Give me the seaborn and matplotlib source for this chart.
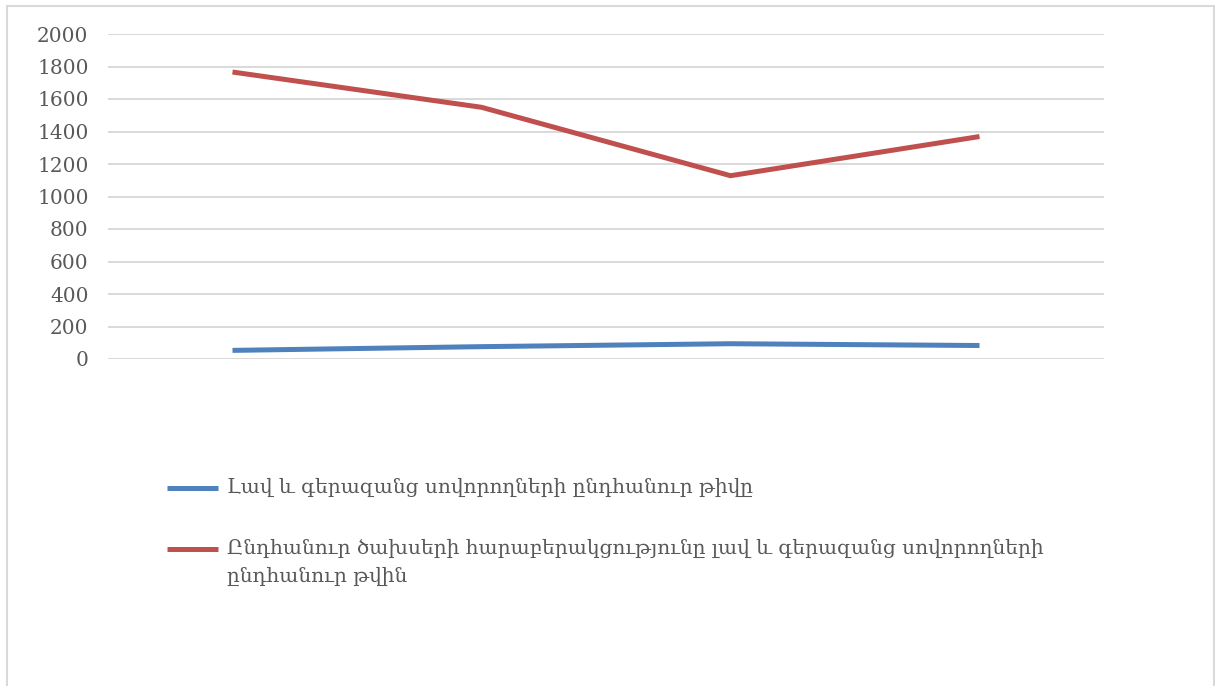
import matplotlib
matplotlib.use("Agg")
import matplotlib.pyplot as plt
import matplotlib.patches as mpatches
from matplotlib.lines import Line2D
import pandas as pd
import seaborn as sns

# -- Data ----------------------------------------------------------------------
periods = ["1", "2", "3", "4"]
good_students = [53, 76, 94, 83]
cost_ratio = [1766, 1549, 1128, 1369]
series_labels = [
    "Լավ և գերազանց սովորողների ընդհանուր թիվը",
    "Ընդհանուր ծախսերի հարաբերակցությունը լավ և գերազանց սովորողների\nընդհանուր թվին",
]
y_ticks = list(range(0, 2001, 200))

COLORS = ["#4F81BD", "#C0504D"]
TEXT_COLOR = "#595959"
GRID_COLOR = "#D9D9D9"
W, H = 1215, 686

sns.set_theme(style="white")
plt.rcParams["font.family"] = ["DejaVu Serif"]

df = pd.DataFrame({
    "period": periods * 2,
    "value": good_students + cost_ratio,
    "series": [series_labels[0]] * len(periods) + [series_labels[1]] * len(periods),
})

fig = plt.figure(figsize=(W / 100, H / 100), dpi=100)
ax = fig.add_axes([108 / W, 1 - 359 / H, (1104 - 108) / W, (359 - 34) / H])

sns.lineplot(data=df, x="period", y="value", hue="series", palette=COLORS,
             linewidth=3.6, legend=False, ax=ax, sort=False,
             solid_capstyle="butt", solid_joinstyle="miter")

ax.set_xlim(-0.5, len(periods) - 0.5)
ax.set_ylim(0, 2000)
ax.set_yticks(y_ticks)
ax.set_xticks([])
ax.set_xlabel("")
ax.set_ylabel("")
ax.yaxis.grid(True, color=GRID_COLOR, linewidth=1.4)
ax.set_axisbelow(True)
for s in ax.spines.values():
    s.set_visible(False)
ax.tick_params(axis="y", length=0, pad=14, labelsize=14.5, labelcolor=TEXT_COLOR)

# chart border
fig.add_artist(mpatches.Rectangle((7 / W, -0.05), (1214 - 7) / W, 1.05 - 6 / H,
                                  transform=fig.transFigure, fill=False,
                                  edgecolor=GRID_COLOR, linewidth=1.5))

# legend drawn below the plot
legend_y = [488, 549]
for color, label, y in zip(COLORS, series_labels, legend_y):
    fig.add_artist(Line2D([167 / W, 218 / W], [1 - y / H, 1 - y / H],
                          transform=fig.transFigure, color=color, linewidth=3.6,
                          solid_capstyle="butt"))
    fig.text(227 / W, 1 - (y - 10) / H, label, ha="left", va="top",
             fontsize=14.5, color=TEXT_COLOR, linespacing=1.6)

fig.savefig("out.png", dpi=100)
